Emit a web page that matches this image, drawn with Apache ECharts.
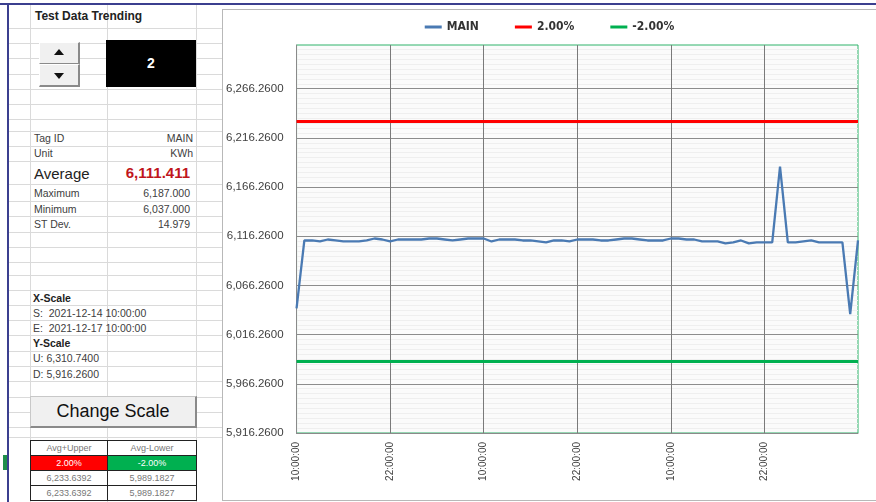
<!DOCTYPE html>
<html><head><meta charset="utf-8">
<script src="https://cdn.jsdelivr.net/npm/echarts@6/dist/echarts.min.js"></script>
<style>
html,body{margin:0;padding:0;width:876px;height:502px;overflow:hidden;background:#fff;font-family:"Liberation Sans","Open Sans",Arial,sans-serif;}
.abs{position:absolute;}
.hl{position:absolute;height:1px;background:#dadada;}
.vl{position:absolute;width:1px;background:#dadada;}
.t{position:absolute;font-size:10.5px;color:#404040;line-height:14px;white-space:nowrap;}
.r{text-align:right;}
.b{font-weight:bold;color:#222;}
.cell{position:absolute;box-sizing:border-box;text-align:center;font-size:9px;line-height:14px;color:#777;}
</style></head>
<body>
<div id="sheet" class="abs" style="left:0;top:0;width:876px;height:502px;"></div>
<div class="abs" style="left:222px;top:9px;width:654px;height:492px;background:#fff;border-left:1px solid #b8b8b8;border-top:1px solid #b8b8b8;border-bottom:1px solid #b8b8b8;box-sizing:border-box;"></div>
<div id="chart" class="abs" style="left:223px;top:10px;width:653px;height:490px;"></div>
<script>
// ---------------- data ----------------
const tagId = 'MAIN';
const upperLimit = 6233.6392;
const lowerLimit = 5989.1827;
const yMin = 5916.26;
const yMax = 6310.74;
const yStep = 50;
const startHour = 10;
const hourCount = 73;
const mainValues = [
  6043, 6112, 6112, 6111, 6113, 6112, 6111, 6111, 6111, 6112,
  6114, 6113, 6111, 6113, 6113, 6113, 6113, 6114, 6114, 6113,
  6112, 6113, 6114, 6114, 6114, 6111, 6113, 6113, 6113, 6112,
  6112, 6111, 6110, 6112, 6112, 6111, 6113, 6113, 6113, 6112,
  6112, 6113, 6114, 6114, 6113, 6112, 6112, 6112, 6114, 6114,
  6113, 6113, 6111, 6111, 6111, 6109, 6110, 6112, 6109, 6110,
  6110, 6110, 6187, 6110, 6110, 6111, 6112, 6110, 6110, 6110,
  6110, 6037, 6112
];
const categories = [];
for (let i = 0; i < hourCount; i++) {
  const h = (startHour + i) % 24;
  categories.push((h < 10 ? '0' + h : '' + h) + ':00:00');
}

// ---------------- spreadsheet panel ----------------
const sheet = document.getElementById('sheet');
function add(html){ sheet.insertAdjacentHTML('beforeend', html); }
const rowLines = [28,43,58,74,89,104,119,131,146,161,184,201,216,232,247,262,275,290,305,320,335,351,366,381,397,412,427,437];
rowLines.forEach(y => add(`<div class="hl" style="left:8px;top:${y}px;width:214px;"></div>`));
[30,107,196].forEach(x => add(`<div class="vl" style="left:${x}px;top:5px;height:497px;"></div>`));
add('<div class="abs" style="left:0;top:3px;width:876px;height:2px;background:#3b3f8f;"></div>');
add('<div class="abs" style="left:7px;top:3px;width:2px;height:499px;background:#3b3f8f;"></div>');
add('<div class="abs" style="left:3px;top:455px;width:4px;height:15px;background:#1e8f4a;"></div>');
add('<div class="t b" style="left:35px;top:9px;font-size:12px;">Test Data Trending</div>');
add('<div class="abs" style="left:39px;top:42px;width:41px;height:22px;box-sizing:border-box;background:#f0f0f0;border-right:2px solid #8a8a8a;border-bottom:1px solid #8a8a8a;border-top:1px solid #fff;border-left:1px solid #fff;"></div>');
add('<div class="abs" style="left:39px;top:64px;width:41px;height:23px;box-sizing:border-box;background:#f0f0f0;border-right:2px solid #8a8a8a;border-bottom:2px solid #8a8a8a;border-top:1px solid #fff;border-left:1px solid #fff;"></div>');
add('<div class="abs" style="left:54px;top:49px;width:0;height:0;border-left:5px solid transparent;border-right:5px solid transparent;border-bottom:6px solid #111;"></div>');
add('<div class="abs" style="left:54px;top:73px;width:0;height:0;border-left:5px solid transparent;border-right:5px solid transparent;border-top:6px solid #111;"></div>');
add('<div class="abs" style="left:106px;top:40px;width:90px;height:47px;background:#000;color:#fff;font-weight:bold;font-size:14px;line-height:47px;text-align:center;">2</div>');
add(`<div class="t" style="left:34px;top:131px;">Tag ID</div><div class="t r" style="left:110px;width:83px;top:131px;">${tagId}</div>`);
add('<div class="t" style="left:34px;top:146px;">Unit</div><div class="t r" style="left:110px;width:83px;top:146px;">KWh</div>');
add('<div class="t" style="left:34px;top:165px;font-size:15px;line-height:18px;color:#222;">Average</div><div class="t r" style="left:100px;width:90px;top:164px;font-size:15px;line-height:18px;font-weight:bold;color:#c0161c;">6,111.411</div>');
add('<div class="t" style="left:34px;top:186px;">Maximum</div><div class="t r" style="left:110px;width:80px;top:186px;">6,187.000</div>');
add('<div class="t" style="left:34px;top:202px;">Minimum</div><div class="t r" style="left:110px;width:80px;top:202px;">6,037.000</div>');
add('<div class="t" style="left:34px;top:217px;">ST Dev.</div><div class="t r" style="left:110px;width:80px;top:217px;">14.979</div>');
add('<div class="t b" style="left:33px;top:291px;">X-Scale</div>');
add('<div class="t" style="left:33px;top:306px;">S:&nbsp; 2021-12-14 10:00:00</div>');
add('<div class="t" style="left:33px;top:321px;">E:&nbsp; 2021-12-17 10:00:00</div>');
add('<div class="t b" style="left:33px;top:336px;">Y-Scale</div>');
add('<div class="t" style="left:33px;top:351px;">U: 6,310.7400</div>');
add('<div class="t" style="left:33px;top:367px;">D: 5,916.2600</div>');
add('<div class="abs" style="left:30px;top:396px;width:167px;height:32px;box-sizing:border-box;background:#f0f0f0;border:1px solid #c8c8c8;border-right:2px solid #8a8a8a;border-bottom:2px solid #8a8a8a;font-size:18px;line-height:29px;text-align:center;color:#111;">Change Scale</div>');
add('<div class="abs" style="left:30px;top:440px;width:167px;height:61px;box-sizing:border-box;border:1px solid #222;background:#fff;"></div>');
add('<div class="abs" style="left:107px;top:440px;width:1px;height:61px;background:#222;"></div>');
[455,470,485].forEach(y => add(`<div class="abs" style="left:30px;top:${y}px;width:167px;height:1px;background:#222;"></div>`));
add('<div class="cell" style="left:31px;top:441px;width:76px;">Avg+Upper</div><div class="cell" style="left:108px;top:441px;width:88px;">Avg-Lower</div>');
add('<div class="cell" style="left:31px;top:456px;width:76px;height:14px;background:#ff0000;color:#fff;">2.00%</div><div class="cell" style="left:108px;top:456px;width:88px;height:14px;background:#00b050;color:#fff;">-2.00%</div>');
add('<div class="cell" style="left:31px;top:471px;width:76px;">6,233.6392</div><div class="cell" style="left:108px;top:471px;width:88px;">5,989.1827</div>');
add('<div class="cell" style="left:31px;top:486px;width:76px;">6,233.6392</div><div class="cell" style="left:108px;top:486px;width:88px;">5,989.1827</div>');

// ---------------- chart ----------------
const chart = echarts.init(document.getElementById('chart'), null, {renderer: 'canvas'});
const fmt = v => Number(v).toLocaleString('en-US', {minimumFractionDigits: 4, maximumFractionDigits: 4});
const showIdx = i => i % 12 === 0 && i < hourCount - 1;
chart.setOption({
  animation: false,
  legend: {
    top: 6, left: 'center', itemGap: 36, itemWidth: 17, itemHeight: 3, icon: 'rect',
    textStyle: {fontSize: 12, fontWeight: 'bold', color: '#333', fontFamily: '"Liberation Sans Narrow","DejaVu Sans Condensed","Liberation Sans",sans-serif'},
    data: ['MAIN', '2.00%', '-2.00%']
  },
  grid: {left: 73, top: 35, width: 562, height: 388, show: true, borderColor: '#2fb36a', borderWidth: 1, backgroundColor: '#fbfbfb', containLabel: false},
  xAxis: {
    type: 'category', boundaryGap: false, data: categories,
    axisLine: {lineStyle: {color: '#8a8a8a', width: 1}},
    axisTick: {show: false},
    axisLabel: {interval: showIdx, rotate: 90, fontSize: 10, color: '#404040', margin: 9, fontFamily: '"Liberation Sans",Arial,sans-serif'},
    splitLine: {show: true, interval: showIdx, lineStyle: {color: '#7a7a7a', width: 1}}
  },
  yAxis: {
    type: 'value', min: yMin, max: yMax, interval: yStep,
    axisLine: {show: true, lineStyle: {color: '#8a8a8a'}},
    axisTick: {show: false},
    axisLabel: {formatter: fmt, showMaxLabel: false, fontSize: 11.5, color: '#404040', margin: 13, fontFamily: '"Liberation Sans",Arial,sans-serif'},
    splitLine: {show: true, showMaxLine: false, lineStyle: {color: '#8c8c8c', width: 1}},
    minorTick: {show: false, splitNumber: 10},
    minorSplitLine: {show: true, lineStyle: {color: '#efefef', width: 1}}
  },
  series: [
    {name: 'MAIN', type: 'line', data: mainValues, showSymbol: false, symbol: 'none',
     itemStyle: {color: '#4a7ab3'}, lineStyle: {color: '#4a7ab3', width: 2.3}, z: 5},
    {name: '2.00%', type: 'line', data: [], itemStyle: {color: '#ff0000'}, lineStyle: {color: '#ff0000', width: 3},
     markLine: {symbol: 'none', silent: true, label: {show: false}, lineStyle: {color: '#ff0000', width: 3, type: 'solid'}, data: [{yAxis: upperLimit}]}},
    {name: '-2.00%', type: 'line', data: [], itemStyle: {color: '#00b050'}, lineStyle: {color: '#00b050', width: 3},
     markLine: {symbol: 'none', silent: true, label: {show: false}, lineStyle: {color: '#00b050', width: 3, type: 'solid'}, data: [{yAxis: lowerLimit}]}}
  ]
});
</script>
</body></html>
